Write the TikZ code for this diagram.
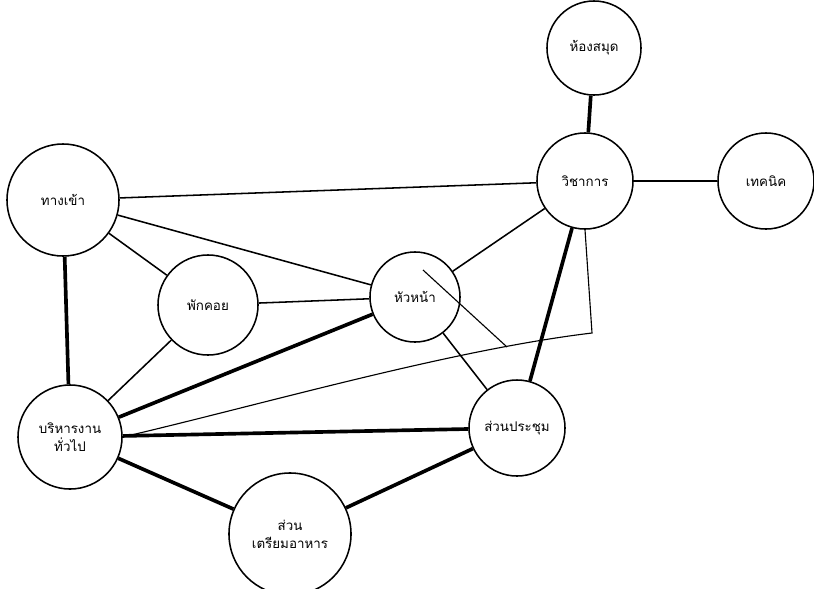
\documentclass[tikz,border=0pt]{standalone}
\usepackage{fontspec}
\newfontfamily\thaifont[Script=Thai]{Loma}
\usepackage{tikz}
\usetikzlibrary{calc}

\begin{document}
\begin{tikzpicture}[x=0.025cm, y=-0.025cm,
        room/.style={circle, draw=black, line width=1.1pt, inner sep=0pt, text centered, align=center, font=\thaifont\fontsize{9.5}{13}\selectfont},
        line/.style={draw=black, line width=1.1pt},
        heavy/.style={draw=black, line width=2.6pt},
        sketch/.style={draw=black, line width=0.8pt}]
        \useasboundingbox (0,0) rectangle (814,588);
        \begin{scope}
        \clip (0,0) rectangle (814,588);

        \node [room, minimum size=2.35cm] (library) at (594,48) {ห้องสมุด};
        \node [room, minimum size=2.4cm] (academic) at (585,181) {วิชาการ};
        \node [room, minimum size=2.4cm] (technical) at (766,181) {เทคนิค};
        \node [room, minimum size=2.8cm] (entrance) at (63,200) {ทางเข้า};
        \node [room, minimum size=2.5cm] (waiting) at (208,305) {พักคอย};
        \node [room, minimum size=2.25cm] (head) at (415,297) {หัวหน้า};
        \node [room, minimum size=2.6cm] (admin) at (70,437) {บริหารงาน\\ทั่วไป};
        \node [room, minimum size=2.4cm] (meeting) at (517,428) {ส่วนประชุม};
        \node [room, minimum size=3.05cm] (kitchen) at (290,534) {ส่วน\\เตรียมอาหาร};

        \coordinate (bend) at (592,333);
        \coordinate (markA) at (423,270);
        \coordinate (markB) at (507,347);

        \path [heavy] (library) -- (academic);
        \path [line] (academic) -- (technical);
        \path [line] (entrance) -- (academic);
        \path [line] (entrance) -- (waiting);
        \path [line] (entrance) -- (head);
        \path [heavy] (entrance) -- (admin);
        \path [line] (waiting) -- (head);
        \path [line] (waiting) -- (admin);
        \path [line] (head) -- (academic);
        \path [heavy] (head) -- (admin);
        \path [line] (head) -- (meeting);
        \path [heavy] (academic) -- (meeting);
        \path [heavy] (admin) -- (meeting);
        \path [heavy] (admin) -- (kitchen);
        \path [heavy] (kitchen) -- (meeting);

        % pencil marks
        \path [sketch] (admin.east) .. controls (260,405) and (450,350) .. (bend) -- (academic.south);
        \path [sketch] (markA) -- (markB);
        \end{scope}
    \end{tikzpicture}
\end{document}
